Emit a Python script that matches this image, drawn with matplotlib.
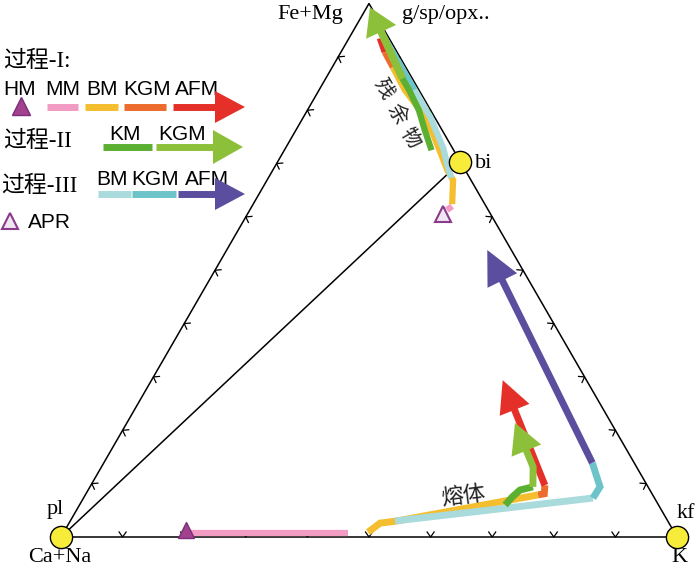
import numpy as np
import matplotlib
matplotlib.use("Agg")
import matplotlib.pyplot as plt
from matplotlib.patches import Polygon

plt.rcParams['font.family'] = ['Liberation Sans', 'Noto Sans CJK SC']

# ---------------- data: compositions in % (Fe+Mg, K); Ca+Na = remainder ----------------
vertex_labels = ["Ca+Na", "K", "Fe+Mg"]
phase_labels = ["pl", "kf", "bi", "g/sp/opx.."]
bi_fm, bi_k = 70.3, 29.7

hm_fm, hm_k = 1.3, 19.6          # HM starting composition
apr_fm, apr_k = 60.5, 31.7       # APR

# Process I
I_MM_melt_fm = [0.7, 0.7];             I_MM_melt_k = [20.6, 46.2]
I_BM_melt_fm = [0.9, 2.6, 3.0, 7.9];   I_BM_melt_k = [49.4, 50.5, 53.0, 73.5]
I_KGM_melt_fm = [7.9, 8.1, 9.7];       I_KGM_melt_k = [73.5, 74.4, 73.7]
I_AFM_melt_fm = [9.7, 29.4];           I_AFM_melt_k = [73.7, 57.0]
I_MM_res_fm = [61.3, 62.0];            I_MM_res_k = [32.0, 32.5]
I_BM_res_fm = [62.4, 66.9, 68.8, 71.2, 75.7, 80.0, 83.8, 88.1]
I_BM_res_k = [32.3, 30.2, 28.3, 26.3, 22.5, 18.3, 13.9, 9.8]
I_KGM_res_fm = [88.1, 90.9];           I_KGM_res_k = [9.8, 7.1]
I_AFM_res_fm = [90.9, 93.5];           I_AFM_res_k = [7.1, 5.0]

# Process II
II_KM_melt_fm = [6.0, 7.5, 8.8, 9.4];  II_KM_melt_k = [69.1, 69.5, 70.1, 71.9]
II_KGM_melt_fm = [9.4, 13.1, 21.4];    II_KGM_melt_k = [71.9, 70.1, 63.0]
II_KM_res_fm = [72.5, 76.3, 80.0, 83.8, 86.0]
II_KM_res_k = [23.9, 20.9, 18.1, 14.6, 12.4]
II_KGM_res_fm = [86.0, 99.3];          II_KGM_res_k = [12.4, 0.5]

# Process III
III_BM_melt_fm = [3.0, 7.3];           III_BM_melt_k = [52.7, 82.7]
III_KGM_melt_fm = [7.3, 9.4, 13.9];    III_KGM_melt_k = [82.7, 82.8, 79.3]
III_AFM_melt_fm = [13.9, 53.8];        III_AFM_melt_k = [79.3, 42.3]
III_BM_res_fm = [67.3, 69.4, 72.9, 78.7, 83.8]
III_BM_res_k = [29.7, 28.1, 25.6, 20.6, 15.5]
III_KGM_res_fm = [83.8, 94.1];         III_KGM_res_k = [15.5, 5.2]

legend_rows = [["HM", "MM", "BM", "KGM", "AFM"], ["KM", "KGM"], ["BM", "KGM", "AFM"]]
process_names = ["过程-I:", "过程-II", "过程-III"]

# ---------------- colours ----------------
C_PINK = "#F29BC3"; C_YEL = "#F5BE2E"; C_ORG = "#EC6B2D"; C_RED = "#E5302A"
C_DGRN = "#5BB032"; C_LGRN = "#8DC03A"; C_LCYN = "#A9DADC"; C_TEAL = "#6CC4C9"
C_PUR = "#5B4E9E"; C_CIRC = "#F7EC3A"

# ---------------- figure ----------------
S = 616.0  # pixels per unit side
fig = plt.figure(figsize=(7, 5.68), dpi=100)
ax = fig.add_axes([0, 0, 1, 1])
ax.set_xlim(-61 / S, 639 / S)
ax.set_ylim((537 - 568) / S, 537 / S)
ax.axis('off')


def tern(fm, k):
    fm = np.asarray(fm, float) / 100.0
    k = np.asarray(k, float) / 100.0
    return k + fm / 2.0, fm * np.sqrt(3) / 2.0


def P(px, py):
    return (px - 61) / S, (537 - py) / S


def draw(xs, ys, color, lw=5.0, head=None, z=3):
    xs = list(map(float, np.atleast_1d(xs)))
    ys = list(map(float, np.atleast_1d(ys)))
    if head is not None:
        hl, hw = head[0] / S, head[1] / S
        dx, dy = xs[-1] - xs[-2], ys[-1] - ys[-2]
        n = np.hypot(dx, dy)
        ux, uy = dx / n, dy / n
        bx, by = xs[-1] - ux * hl, ys[-1] - uy * hl
        lx = xs[:-1] + [bx + ux * 0.003]
        ly = ys[:-1] + [by + uy * 0.003]
        ax.plot(lx, ly, color=color, lw=lw, solid_capstyle='butt',
                solid_joinstyle='miter', zorder=z)
        poly = [(xs[-1], ys[-1]), (bx - uy * hw / 2, by + ux * hw / 2),
                (bx + uy * hw / 2, by - ux * hw / 2)]
        ax.add_patch(Polygon(poly, closed=True, fc=color, ec='none', zorder=z))
    else:
        ax.plot(xs, ys, color=color, lw=lw, solid_capstyle='butt',
                solid_joinstyle='miter', zorder=z)


def tpath(fm, k, color, lw=5.0, head=None, z=3):
    x, y = tern(fm, k)
    draw(x, y, color, lw, head, z)


# ---------------- triangle frame ----------------
A = np.array(tern(0, 0), float)      # Ca+Na
B = np.array(tern(0, 100), float)    # K
C = np.array(tern(100, 0), float)    # Fe+Mg
bi = np.array(tern(bi_fm, bi_k), float)
ax.plot([A[0], B[0], C[0], A[0]], [A[1], B[1], C[1], A[1]], color='black', lw=1.1, zorder=2)
ax.plot([A[0], bi[0]], [A[1], bi[1]], color='black', lw=1.1, zorder=2)

# chevron ticks every 10 %
ca, cb = 5 / S, 3.5 / S
for (P0, P1, nrm) in [(A, B, (0, -1)), (B, C, (0.866, 0.5)), (C, A, (-0.866, 0.5))]:
    u = (P1 - P0) / np.linalg.norm(P1 - P0)
    nv = np.array(nrm)
    for t in np.arange(1, 10) / 10:
        pt = P0 + t * (P1 - P0)
        a1 = pt - nv * ca + u * cb
        a2 = pt - nv * ca - u * cb
        ax.plot([a1[0], pt[0], a2[0]], [a1[1], pt[1], a2[1]], color='black', lw=0.9, zorder=2)

# ---------------- paths ----------------
# Process I
tpath(I_MM_melt_fm, I_MM_melt_k, C_PINK, lw=4.5)
tpath(I_BM_melt_fm, I_BM_melt_k, C_YEL)
tpath(I_KGM_melt_fm, I_KGM_melt_k, C_ORG)
tpath(I_AFM_melt_fm, I_AFM_melt_k, C_RED, head=(32, 32))
tpath(I_MM_res_fm, I_MM_res_k, C_PINK, lw=4.5)
tpath(I_BM_res_fm, I_BM_res_k, C_YEL, lw=4.5)
tpath(I_KGM_res_fm, I_KGM_res_k, C_ORG, lw=4.5)
tpath(I_AFM_res_fm, I_AFM_res_k, C_RED, lw=4.5)
# Process III
tpath(III_BM_melt_fm, III_BM_melt_k, C_LCYN, z=4)
tpath(III_KGM_melt_fm, III_KGM_melt_k, C_TEAL, z=4)
tpath(III_AFM_melt_fm, III_AFM_melt_k, C_PUR, head=(34, 33), z=4)
tpath(III_BM_res_fm, III_BM_res_k, C_LCYN, lw=4.5, z=4)
tpath(III_KGM_res_fm, III_KGM_res_k, C_TEAL, lw=4.5, z=4)
# Process II
tpath(II_KM_melt_fm, II_KM_melt_k, C_DGRN, z=5)
tpath(II_KGM_melt_fm, II_KGM_melt_k, C_LGRN, head=(30, 32), z=5)
tpath(II_KM_res_fm, II_KM_res_k, C_DGRN, lw=4.5, z=5)
tpath(II_KGM_res_fm, II_KGM_res_k, C_LGRN, lw=5.5, head=(27, 33), z=5)

# markers
hx, hy = tern(hm_fm, hm_k)
ax.plot(hx, hy, marker='^', ms=12, mfc='#A2428F', mec='#7B2C7A', mew=1.0, zorder=7)
px_, py_ = tern(apr_fm, apr_k)
ax.plot(px_, py_, marker='^', ms=12, mfc='#EFE6F2', mec='#8B3A8B', mew=1.5, zorder=7)
for (fm, k) in [(0, 0), (0, 100), (bi_fm, bi_k)]:
    x, y = tern(fm, k)
    ax.plot(x, y, 'o', ms=16, mfc=C_CIRC, mec='black', mew=1.0, zorder=8)

# ---------------- labels ----------------
serif = ['Liberation Serif', 'Noto Sans CJK SC']
fs_v = 16
ax.text(*P(310, 19), vertex_labels[2], family=serif, fontsize=fs_v, ha='center', va='baseline')
ax.text(*P(402, 19), phase_labels[3], family=serif, fontsize=fs_v, ha='left', va='baseline')
ax.text(*P(475, 168), phase_labels[2], family=serif, fontsize=fs_v, ha='left', va='baseline')
ax.text(*P(47, 514), phase_labels[0], family=serif, fontsize=fs_v, ha='left', va='baseline')
ax.text(*P(28, 562), vertex_labels[0], family=serif, fontsize=fs_v, ha='left', va='baseline')
ax.text(*P(677, 518), phase_labels[1], family=serif, fontsize=fs_v, ha='left', va='baseline')
ax.text(*P(671, 562), vertex_labels[1], family=serif, fontsize=fs_v, ha='left', va='baseline')

for ch, (cx, cy) in zip("残余物", [(382, 89), (397, 114), (410, 138)]):
    ax.text(*P(cx, cy), ch, family=['Noto Sans CJK SC'], fontsize=14.5, rotation=-60,
            ha='center', va='center', rotation_mode='anchor', color='#222222')
ax.text(*P(463, 496), "熔体", family=['Noto Sans CJK SC'], fontsize=16, rotation=7,
        ha='center', va='center', rotation_mode='anchor', color='#222222')

# ---------------- legend ----------------
fs_l = 15
fs_p = 16.5
cjk = ['Liberation Serif', 'Noto Sans CJK SC']
ax.text(*P(3, 61), process_names[0], family=cjk, fontsize=fs_p, ha='left', va='center')
ax.text(*P(3, 141), process_names[1], family=cjk, fontsize=fs_p, ha='left', va='center')
ax.text(*P(1, 186), process_names[2], family=cjk, fontsize=fs_p, ha='left', va='center')

for lab, cx in zip(legend_rows[0], [20, 63, 102, 147, 197]):
    ax.text(*P(cx, 95), lab, fontsize=fs_l, ha='center', va='baseline', zorder=3)
for lab, cx in zip(legend_rows[1], [125, 182]):
    ax.text(*P(cx, 140), lab, fontsize=fs_l, ha='center', va='baseline', zorder=3)
for lab, cx in zip(legend_rows[2], [112, 155, 207]):
    ax.text(*P(cx, 185), lab, fontsize=fs_l, ha='center', va='baseline', zorder=3)


def lbar(x0, x1, y, color, head=None, lw=5.0):
    a = P(x0, y); b = P(x1, y)
    draw([a[0], b[0]], [a[1], b[1]], color, lw=lw, head=head, z=6)


ax.plot(*P(21, 106), marker='^', ms=13, mfc='#A2428F', mec='#7B2C7A', mew=1.0, zorder=6)
lbar(47, 78, 107, C_PINK)
lbar(85, 118, 107, C_YEL)
lbar(124, 166, 107, C_ORG)
lbar(173, 245, 107, C_RED, head=(30, 32))
lbar(103, 152, 147, C_DGRN)
lbar(156, 243, 147, C_LGRN, head=(30, 34))
lbar(98, 131, 194, C_LCYN)
lbar(132, 176, 194, C_TEAL)
lbar(178, 245, 194, C_PUR, head=(30, 32))
ax.plot(*P(10, 221), marker='^', ms=12, mfc='#EFE6F2', mec='#8B3A8B', mew=1.5, zorder=6)
ax.text(*P(28, 228), "APR", fontsize=fs_l, ha='left', va='baseline')

fig.savefig("out.png", dpi=100)
